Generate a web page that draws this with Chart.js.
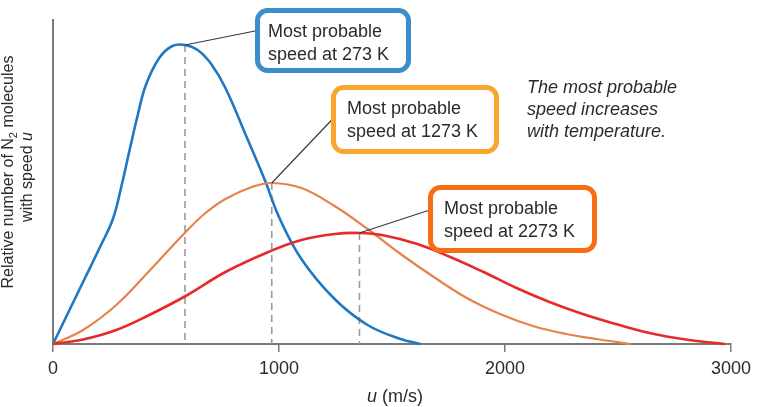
<!DOCTYPE html>
<html>
<head>
<meta charset="utf-8">
<script src="https://cdn.jsdelivr.net/npm/chart.js@4"></script>
<style>
  html, body { margin: 0; padding: 0; background: #fff; }
  #wrap { width: 757px; height: 407px; position: relative; }
</style>
</head>
<body>
<div id="wrap"><canvas id="speedChart"></canvas></div>
<script>
// speeds (m/s) and relative heights
const blueSpeeds = [0, 133, 206, 265, 302, 338, 375, 411, 470, 528, 584, 640, 700, 763, 851, 939, 1000, 1099, 1246, 1392, 1538, 1626];
const blueValues = [0, 62, 96, 125, 157, 193, 229, 259, 286, 298, 299, 294, 280, 256, 210, 163, 127, 85, 45, 19, 5, 0];

const orangeSpeeds = [0, 133, 280, 426, 587, 675, 763, 880, 968, 1099, 1246, 1392, 1538, 1685, 1831, 1978, 2124, 2271, 2417, 2556];
const orangeValues = [0, 14, 39, 73, 112, 131, 145, 157, 161, 156, 138, 115, 90, 67, 46, 30, 18, 10, 4.5, 0];

const redSpeeds = [0, 133, 280, 426, 587, 763, 953, 1099, 1246, 1356, 1466, 1612, 1758, 1905, 2051, 2197, 2344, 2490, 2640, 2800, 2973];
const redValues = [0, 4.5, 14, 29, 48, 72, 92, 104, 110, 111, 108.5, 100, 87, 72, 56, 42, 30, 20, 11, 4.5, 0];

const xTicks = [0, 1000, 2000, 3000];
const peakSpeeds = [584, 968, 1356];
const peakValues = [299, 161, 111];
const boxLines = [
    ['Most probable', 'speed at 273 K'],
    ['Most probable', 'speed at 1273 K'],
    ['Most probable', 'speed at 2273 K']
];
const noteLines = ['The most probable', 'speed increases', 'with temperature.'];

const family = '"Liberation Sans", Arial, Helvetica, sans-serif';
const textColor = '#2b2b2b';
const axisColor = '#7a7a7a';

// callout boxes, in canvas pixels
const boxes = [
    { x: 255, y: 8, w: 156, h: 65, color: '#3b8fc9' },
    { x: 331, y: 85, w: 168, h: 69, color: '#f8a630' },
    { x: 428, y: 185, w: 169, h: 68, color: '#f56d15' }
];

const toPoints = (xs, ys) => xs.map((x, i) => ({ x: x, y: ys[i] }));

const overlay = {
    id: 'overlay',
    beforeDatasetsDraw(chart) {
        const ctx = chart.ctx;
        const xs = chart.scales.x, ys = chart.scales.y;
        ctx.save();
        ctx.strokeStyle = '#9a9a9a';
        ctx.lineWidth = 1.6;
        ctx.setLineDash([7, 5]);
        peakSpeeds.forEach((s, i) => {
            const px = xs.getPixelForValue(s);
            ctx.beginPath();
            ctx.moveTo(px, ys.getPixelForValue(peakValues[i]));
            ctx.lineTo(px, chart.chartArea.bottom);
            ctx.stroke();
        });
        ctx.restore();
    },
    afterDraw(chart) {
        const ctx = chart.ctx;
        const xs = chart.scales.x, ys = chart.scales.y;
        ctx.save();

        // leader lines from each peak to its callout
        ctx.strokeStyle = '#3a3a3a';
        ctx.lineWidth = 1.2;
        boxes.forEach((b, i) => {
            ctx.beginPath();
            ctx.moveTo(xs.getPixelForValue(peakSpeeds[i]), ys.getPixelForValue(peakValues[i]));
            ctx.lineTo(b.x + (i === 0 ? 10 : 14), b.y + 21);
            ctx.stroke();
        });

        // callout boxes
        ctx.font = '18px ' + family;
        ctx.textBaseline = 'alphabetic';
        ctx.textAlign = 'left';
        boxes.forEach((b, i) => {
            ctx.beginPath();
            ctx.roundRect(b.x + 2.5, b.y + 2.5, b.w - 5, b.h - 5, 10);
            ctx.fillStyle = '#fff';
            ctx.fill();
            ctx.lineWidth = 5;
            ctx.strokeStyle = b.color;
            ctx.stroke();
            ctx.fillStyle = textColor;
            const tx = b.x + (i === 0 ? 13 : 16);
            ctx.fillText(boxLines[i][0], tx, b.y + 29);
            ctx.fillText(boxLines[i][1], tx, b.y + 52);
        });

        // note
        ctx.font = 'italic 18px ' + family;
        noteLines.forEach((t, i) => ctx.fillText(t, 527, 93 + i * 22));

        // x title: italic u + (m/s)
        ctx.textBaseline = 'middle';
        const xa = 'u', xb = ' (m/s)';
        ctx.font = 'italic 18px ' + family;
        const wa = ctx.measureText(xa).width;
        ctx.font = '18px ' + family;
        const wb = ctx.measureText(xb).width;
        const sx = 395 - (wa + wb) / 2;
        ctx.font = 'italic 18px ' + family;
        ctx.fillText(xa, sx, 397);
        ctx.font = '18px ' + family;
        ctx.fillText(xb, sx + wa, 397);

        // y title, rotated, two lines
        const runs1 = [
            { t: 'Relative number of N', f: '16px ' + family, dy: 0 },
            { t: '2', f: '11px ' + family, dy: 5 },
            { t: ' molecules', f: '16px ' + family, dy: 0 }
        ];
        const runs2 = [
            { t: 'with speed ', f: '16px ' + family, dy: 0 },
            { t: 'u', f: 'italic 16px ' + family, dy: 0 }
        ];
        const drawRuns = (runs, cx, cy) => {
            ctx.save();
            ctx.translate(cx, cy);
            ctx.rotate(-Math.PI / 2);
            let total = 0;
            runs.forEach(r => { ctx.font = r.f; r.w = ctx.measureText(r.t).width; total += r.w; });
            let p = -total / 2;
            runs.forEach(r => { ctx.font = r.f; ctx.fillText(r.t, p, r.dy); p += r.w; });
            ctx.restore();
        };
        drawRuns(runs1, 9, 172);
        drawRuns(runs2, 28, 177);

        ctx.restore();
    }
};

new Chart(document.getElementById('speedChart'), {
    type: 'line',
    data: {
        datasets: [
            {
                label: '2273 K',
                data: toPoints(redSpeeds, redValues),
                borderColor: '#e62a2a',
                borderWidth: 2.6
            },
            {
                label: '1273 K',
                data: toPoints(orangeSpeeds, orangeValues),
                borderColor: '#e5834b',
                borderWidth: 2.2
            },
            {
                label: '273 K',
                data: toPoints(blueSpeeds, blueValues),
                borderColor: '#1f78c1',
                borderWidth: 2.6
            }
        ]
    },
    options: {
        responsive: true,
        maintainAspectRatio: false,
        animation: false,
        layout: { padding: { left: 0, right: 21, top: 20, bottom: 0 } },
        elements: {
            point: { radius: 0 },
            line: { tension: 0.4, fill: false }
        },
        datasets: { line: { clip: false } },
        plugins: {
            legend: { display: false },
            tooltip: { enabled: false }
        },
        scales: {
            x: {
                type: 'linear',
                min: 0,
                max: 3000,
                afterBuildTicks: s => { s.ticks = xTicks.map(v => ({ value: v })); },
                ticks: {
                    color: textColor,
                    font: { size: 18, family: family },
                    padding: 6,
                    maxRotation: 0,
                    callback: v => String(v)
                },
                grid: { drawOnChartArea: false, drawTicks: true, tickLength: 8, color: axisColor, lineWidth: 1.5 },
                border: { color: axisColor, width: 2 },
                afterFit: s => { s.height = 63; }
            },
            y: {
                min: 0,
                max: 324,
                ticks: { display: false },
                grid: { display: false },
                border: { color: axisColor, width: 2 },
                afterFit: s => { s.width = 53; }
            }
        }
    },
    plugins: [overlay]
});
</script>
</body>
</html>
